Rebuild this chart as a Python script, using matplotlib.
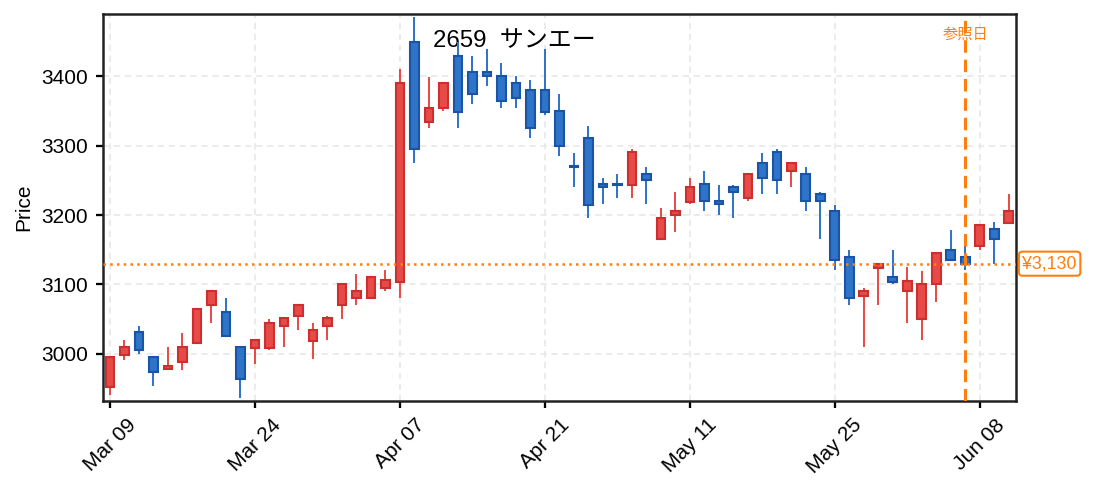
import matplotlib
matplotlib.use("Agg")
import matplotlib.pyplot as plt
import numpy as np

plt.rcParams['font.family'] = ['Liberation Sans', 'Noto Sans CJK JP', 'DejaVu Sans']

dates = ["Mar 09", "Mar 10", "Mar 11", "Mar 12", "Mar 13", "Mar 16", "Mar 17", "Mar 18", "Mar 19", "Mar 23",
         "Mar 24", "Mar 25", "Mar 26", "Mar 27", "Mar 30", "Mar 31", "Apr 01", "Apr 02", "Apr 03", "Apr 06",
         "Apr 07", "Apr 08", "Apr 09", "Apr 10", "Apr 13", "Apr 14", "Apr 15", "Apr 16", "Apr 17", "Apr 20",
         "Apr 21", "Apr 22", "Apr 23", "Apr 24", "Apr 27", "Apr 28", "Apr 30", "May 01", "May 07", "May 08",
         "May 11", "May 12", "May 13", "May 14", "May 15", "May 18", "May 19", "May 20", "May 21", "May 22",
         "May 25", "May 26", "May 27", "May 28", "May 29", "Jun 01", "Jun 02", "Jun 03", "Jun 04", "Jun 05",
         "Jun 08", "Jun 09", "Jun 10"]

opens = [2952, 2999, 3031, 2995, 2978, 2988, 3015, 3070, 3061, 3010,
         3009, 3009, 3040, 3054, 3019, 3040, 3070, 3080, 3080, 3095,
         3104, 3450, 3334, 3355, 3430, 3406, 3406, 3400, 3390, 3380,
         3380, 3350, 3271, 3311, 3245, 3245, 3244, 3260, 3165, 3200,
         3219, 3245, 3220, 3240, 3224, 3275, 3291, 3264, 3260, 3230,
         3206, 3140, 3084, 3124, 3111, 3090, 3050, 3100, 3150, 3140,
         3155, 3180, 3189]
highs = [2996, 3020, 3040, 2995, 3010, 3030, 3065, 3091, 3080, 3010,
         3020, 3050, 3051, 3071, 3044, 3054, 3101, 3115, 3111, 3121,
         3410, 3485, 3399, 3390, 3450, 3430, 3439, 3420, 3400, 3395,
         3440, 3375, 3290, 3329, 3254, 3260, 3295, 3270, 3210, 3234,
         3254, 3264, 3244, 3244, 3260, 3290, 3295, 3275, 3270, 3234,
         3215, 3149, 3095, 3130, 3149, 3125, 3120, 3146, 3179, 3165,
         3186, 3190, 3230]
lows = [2940, 2991, 3000, 2953, 2978, 2977, 3015, 3045, 3025, 2937,
        2986, 3006, 3010, 3034, 2993, 3020, 3050, 3070, 3080, 3091,
        3081, 3275, 3325, 3350, 3325, 3360, 3386, 3355, 3355, 3311,
        3345, 3285, 3240, 3196, 3216, 3224, 3224, 3216, 3165, 3176,
        3216, 3206, 3200, 3196, 3220, 3230, 3230, 3240, 3206, 3166,
        3121, 3071, 3010, 3071, 3101, 3045, 3020, 3075, 3135, 3121,
        3150, 3130, 3189]
closes = [2996, 3010, 3005, 2974, 2983, 3010, 3065, 3091, 3025, 2964,
          3020, 3045, 3051, 3071, 3035, 3051, 3101, 3091, 3111, 3106,
          3390, 3295, 3355, 3390, 3349, 3375, 3400, 3365, 3369, 3325,
          3349, 3300, 3270, 3215, 3240, 3244, 3291, 3250, 3196, 3206,
          3240, 3220, 3216, 3234, 3260, 3254, 3250, 3275, 3220, 3220,
          3135, 3080, 3091, 3130, 3104, 3105, 3101, 3146, 3135, 3130,
          3186, 3165, 3206]

title_text = "2659  サンエー"
ref_index = 59
ref_price = 3130
ref_label = "参照日"
price_label = "¥3,130"

up_fill, up_edge = "#e84b47", "#cc2f2f"
dn_fill, dn_edge = "#2e74c9", "#1a54a6"
orange = "#ff7f0e"

fig = plt.figure(figsize=(1093 / 150, 491 / 150), dpi=150)
ax = fig.add_axes([0.094, 0.1833, 0.8356, 0.7882])

x = np.arange(len(dates))
o = np.array(opens, float); h = np.array(highs, float)
l = np.array(lows, float); c = np.array(closes, float)
up = c >= o
ax.vlines(x, l, h, colors=np.where(up, up_fill, dn_fill), linewidth=0.95, zorder=2)
bottoms = np.minimum(o, c)
heights = np.maximum(np.abs(c - o), 0.8)
ax.bar(x, heights, bottom=bottoms, width=0.6,
       color=np.where(up, up_fill, dn_fill), edgecolor=np.where(up, up_edge, dn_edge),
       linewidth=1.0, zorder=3)

ax.set_xlim(-0.5, 62.5)
ax.set_ylim(2932, 3490)
ax.set_yticks([3000, 3100, 3200, 3300, 3400])
ticks = list(range(0, len(dates), 10))
ax.set_xticks(ticks)
ax.set_xticklabels([dates[i] for i in ticks], rotation=45, fontsize=10)
ax.tick_params(axis='both', labelsize=10, width=1.1, length=3.5)
ax.grid(True, linestyle=(0, (4, 3)), color='#e6e6e6', linewidth=0.75, zorder=0)
ax.set_axisbelow(True)
for s in ax.spines.values():
    s.set_linewidth(1.2)
    s.set_color('#222222')
ax.set_ylabel("Price", fontsize=10)

ax.axhline(ref_price, color=orange, linestyle=(0, (1, 1.7)), linewidth=1.2, zorder=4)
ax.axvline(ref_index, color=orange, linestyle=(0, (4, 2.2)), linewidth=1.5, zorder=4)
ax.text(ref_index, 3460, ref_label, color=orange, fontsize=7.3, ha='center', va='center', zorder=5)
ax.text(1.007, ref_price, price_label, transform=ax.get_yaxis_transform(), color=orange,
        fontsize=8.5, ha='left', va='center', zorder=5,
        bbox=dict(boxstyle='round,pad=0.2', facecolor='white', edgecolor=orange, linewidth=1.0))
ax.text(0.451, 0.930, title_text, transform=ax.transAxes, fontsize=11.5, ha='center', va='center',
        zorder=1.5)

fig.savefig("out.png", dpi=150)
